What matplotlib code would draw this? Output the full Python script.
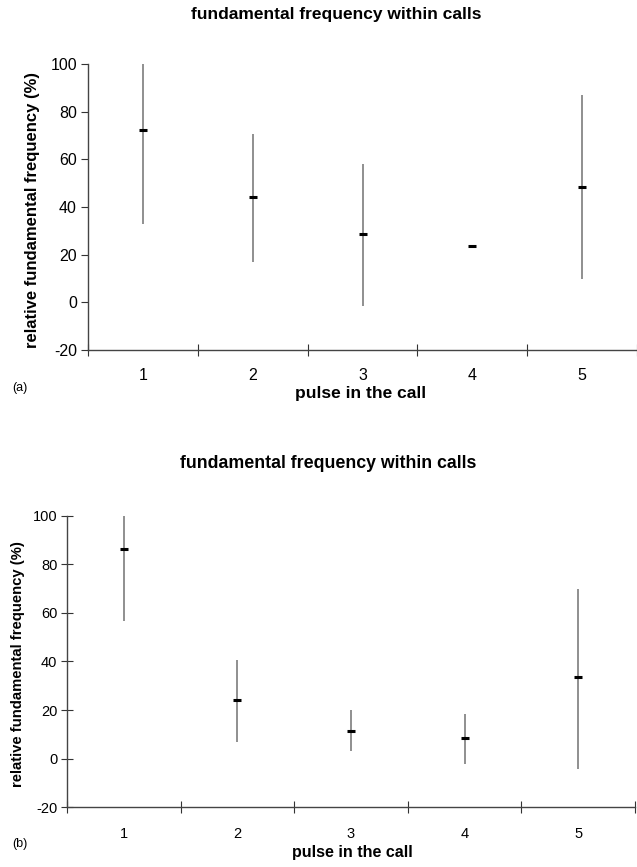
import numpy as np
import matplotlib
matplotlib.use("Agg")
import matplotlib.pyplot as plt

plt.rcParams['font.family'] = ['Liberation Sans', 'DejaVu Sans']

pulses = [1, 2, 3, 4, 5]
pulse_labels = ['1', '2', '3', '4', '5']

# panel (a): mean with upper / lower end of range
mean_a = [72.4, 44.4, 28.8, 23.5, 48.6]
upper_a = [101.0, 70.7, 57.9, 23.5, 86.8]
lower_a = [33.0, 16.9, -1.5, 23.5, 9.8]

# panel (b)
mean_b = [86.1, 24.1, 11.4, 8.6, 33.6]
upper_b = [100.5, 40.5, 19.9, 18.4, 69.7]
lower_b = [56.6, 6.8, 3.1, -2.3, -4.1]

yticks = [-20, 0, 20, 40, 60, 80, 100]

W, H = 637, 867
fig = plt.figure(figsize=(W / 100, H / 100), dpi=100)


def px(x, y):
    # pixel position (from top-left) -> figure fraction
    return x / W, 1 - y / H


def draw_panel(rect, mean, upper, lower, tag, sizes, pos):
    tick_fs, lab_fs, ylab_fs, title_fs = sizes
    ax = fig.add_axes(rect)
    ax.vlines(pulses, lower, upper, color='#8f8f8f', lw=1.4)
    ax.plot(pulses, mean, linestyle='none', marker='_', markersize=5.5,
            markeredgewidth=2.2, color='black')
    ax.set_xlim(0.5, 5.5)
    ax.set_ylim(-20, 100)
    ax.set_yticks(yticks)
    ax.set_yticklabels([str(v) for v in yticks], fontsize=tick_fs)
    ax.set_xticks(pulses)
    ax.set_xticklabels(pulse_labels, fontsize=tick_fs)
    ax.set_xticks([0.5, 1.5, 2.5, 3.5, 4.5, 5.5], minor=True)
    ax.tick_params(axis='x', which='major', length=0, pad=pos['xpad'])
    ax.tick_params(axis='x', which='minor', direction='inout', length=8,
                   width=0.8, color='#333333')
    ax.tick_params(axis='y', direction=pos['ydir'], length=pos['ylen'],
                   width=0.8, pad=3, color='#333333')
    for s in ['top', 'right']:
        ax.spines[s].set_visible(False)
    for s in ['left', 'bottom']:
        ax.spines[s].set_linewidth(1.0)
        ax.spines[s].set_color('#444444')
    fig.text(*px(*pos['ylabel']), 'relative fundamental frequency (%)',
             rotation=90, ha='center', va='center', fontsize=ylab_fs,
             fontweight='bold')
    fig.text(*px(*pos['title']), 'fundamental frequency within calls',
             ha='center', va='center', fontsize=title_fs, fontweight='bold')
    fig.text(*px(*pos['xlabel']), 'pulse in the call', ha='center',
             va='center', fontsize=lab_fs, fontweight='bold')
    fig.text(*px(*pos['tag']), tag, ha='left', va='center', fontsize=9)
    return ax


draw_panel([88 / W, 1 - 350 / H, (637 - 88) / W, 286 / H],
           mean_a, upper_a, lower_a, '(a)', (11.5, 12.5, 12, 12.5),
           dict(xpad=13, ydir='out', ylen=5, ylabel=(33, 210), title=(336, 15),
                xlabel=(361, 393), tag=(12, 388)))
draw_panel([67 / W, 1 - 807.3 / H, (635 - 67) / W, 291.6 / H],
           mean_b, upper_b, lower_b, '(b)', (10.5, 11.5, 10.7, 12.8),
           dict(xpad=14, ydir='inout', ylen=8, ylabel=(18, 664),
                title=(328, 463), xlabel=(352, 853), tag=(12, 844)))

fig.savefig('out.png', dpi=100)
